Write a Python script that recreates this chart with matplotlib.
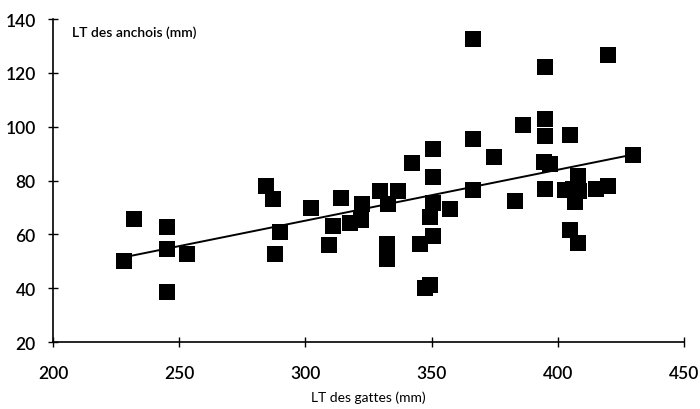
import matplotlib
matplotlib.use("Agg")
import matplotlib.pyplot as plt
import numpy as np

# LT des gattes (mm) / LT des anchois (mm)
gattes = [228, 232, 245, 245, 245, 253, 284.5, 287, 288, 290,
          302, 309.5, 311, 314, 317.6, 322, 322.6, 329.5, 332.7, 336.7,
          332.5, 332.5, 342.4, 345.3, 347.5, 349.5, 349.3, 350.4, 350.4, 350.4,
          350.4, 357.2, 366.5, 366.5, 366.5, 374.8, 383, 386.3, 395, 395,
          395, 394.5, 397, 395, 403, 405, 405, 408, 408, 406,
          408.5, 407, 415, 420, 420, 429.8]
anchois = [50.2, 65.7, 62.6, 54.6, 38.5, 52.7, 77.9, 73.2, 52.7, 60.8,
           69.7, 56, 63.3, 73.4, 64.2, 65.3, 71.3, 76.3, 71.3, 76.3,
           56.4, 51, 86.4, 56.4, 40.2, 41.2, 66.6, 59.5, 71.7, 81.5,
           91.7, 69.5, 132.6, 95.5, 76.5, 88.6, 72.3, 100.8, 122.1, 102.9,
           96.7, 86.8, 86.2, 76.9, 76.6, 97, 61.8, 56.8, 81.7, 76.9,
           76, 72, 76.9, 77.9, 126.5, 89.5]

# regression line as drawn on the figure
slope = 0.189
intercept = 8.44

xticks = [200, 250, 300, 350, 400, 450]
yticks = [20, 40, 60, 80, 100, 120, 140]

plt.rcParams['font.family'] = ['Lato', 'DejaVu Sans']
plt.rcParams['font.weight'] = 600

fig = plt.figure(figsize=(7, 4.1), dpi=100)
ax = fig.add_axes([0.076, 0.163, 0.901, 0.788])

ax.scatter(gattes, anchois, marker='s', s=125, color='black', linewidths=0, zorder=3)
xs = np.array([min(gattes), max(gattes)])
ax.plot(xs, intercept + slope * xs, color='black', lw=1.4, zorder=2)

ax.set_xlim(200, 450)
ax.set_ylim(20, 140)
ax.set_xticks(xticks)
ax.set_yticks(yticks)
ax.tick_params(direction='inout', length=7, width=1, labelsize=12.5)
ax.tick_params(axis='y', pad=9)
ax.tick_params(axis='x', pad=13)
for side in ['top', 'right']:
    ax.spines[side].set_visible(False)
for side in ['left', 'bottom']:
    ax.spines[side].set_linewidth(1.2)

ax.set_xlabel('LT des gattes (mm)', fontsize=10, labelpad=7)
ax.text(0.03, 0.96, 'LT des anchois (mm)', transform=ax.transAxes,
        fontsize=10, va='center', ha='left')

fig.savefig('out.png', dpi=100)
